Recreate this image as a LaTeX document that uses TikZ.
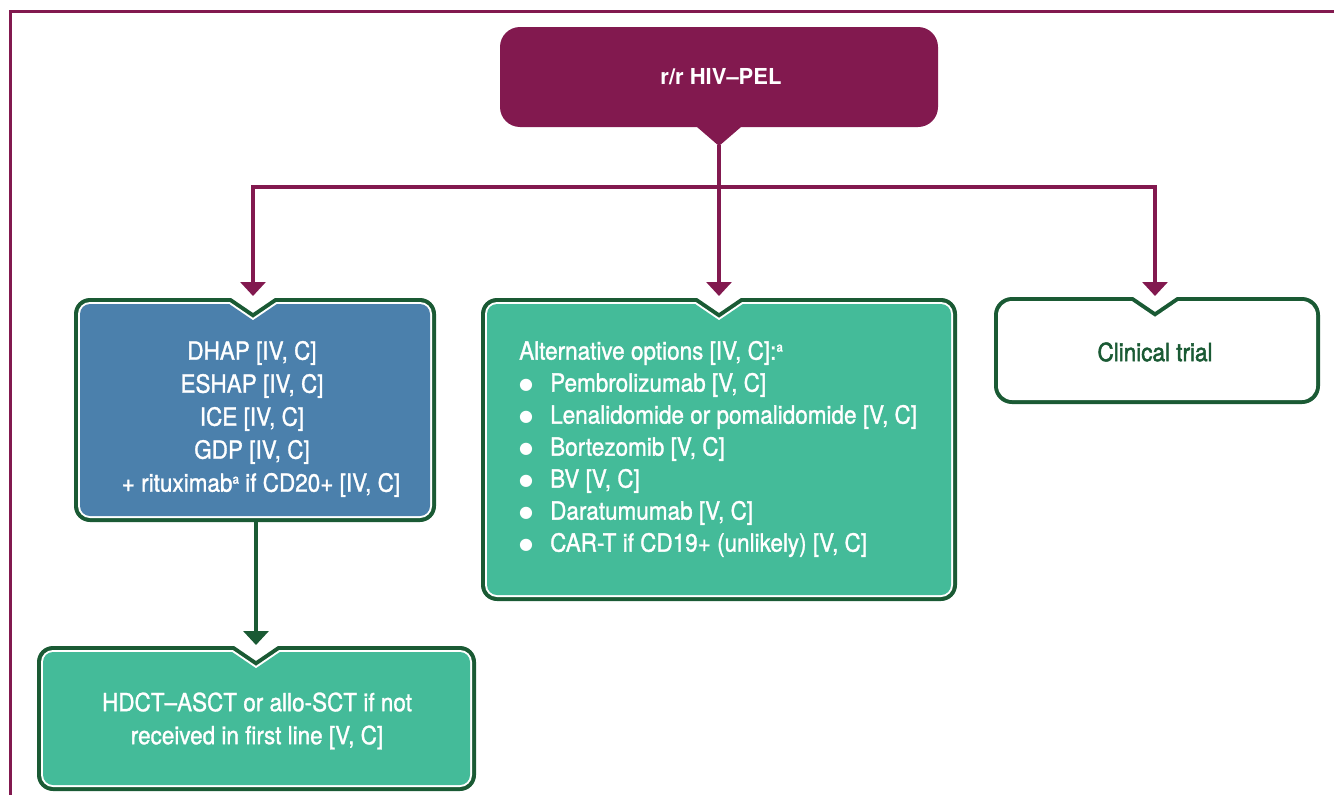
\documentclass[tikz,border=0pt]{standalone}
\usepackage{fontspec}
\setmainfont{TeX Gyre Heros}[FakeStretch=0.9, UprightFeatures={FakeBold=1.2}]
\newfontfamily\headfont{TeX Gyre Heros}
\newfontfamily\trialfont{TeX Gyre Heros}[FakeStretch=0.9, UprightFeatures={FakeBold=2}]
\newfontfamily\symfont{DejaVu Sans}
\usetikzlibrary{arrows.meta}

\definecolor{plum}{HTML}{82194F}
\definecolor{darkgreen}{HTML}{1A5A34}
\definecolor{mint}{HTML}{44BB99}
\definecolor{steel}{HTML}{4B80AC}

% one filled layer of a rounded box with a V notch in its top edge
% #1 left, #2 top, #3 right, #4 bottom (y measured downwards), #5 notch x,
% #6 corner radius, #7 inset, #8 fill colour
\newcommand\notchlayer[8]{%
  \pgfmathsetmacro\nbL{#1+#7}%
  \pgfmathsetmacro\nbT{-(#2+#7)}%
  \pgfmathsetmacro\nbR{#3-#7}%
  \pgfmathsetmacro\nbB{-(#4-#7)}%
  \pgfmathsetmacro\nbr{#6-#7}%
  \pgfmathsetmacro\nbW{22+0.31*#7}%
  \pgfmathsetmacro\nbD{-(#2+15+1.21*#7)}%
  \fill[#8] (\nbL,\nbB+\nbr) -- (\nbL,\nbT-\nbr)
    arc[start angle=180,end angle=90,radius=\nbr pt]
    -- (#5-\nbW,\nbT) -- (#5,\nbD) -- (#5+\nbW,\nbT)
    -- (\nbR-\nbr,\nbT) arc[start angle=90,end angle=0,radius=\nbr pt]
    -- (\nbR,\nbB+\nbr) arc[start angle=0,end angle=-90,radius=\nbr pt]
    -- (\nbL+\nbr,\nbB) arc[start angle=270,end angle=180,radius=\nbr pt]
    -- cycle;}
% green outline, thin white line, coloured body
\newcommand\notchbox[7]{%
  \notchlayer{#1}{#2}{#3}{#4}{#5}{#6}{0}{darkgreen}%
  \notchlayer{#1}{#2}{#3}{#4}{#5}{#6}{4}{white}%
  \notchlayer{#1}{#2}{#3}{#4}{#5}{#6}{6}{#7}}

\newcommand\supa{\raisebox{8pt}{\fontsize{13pt}{13pt}\selectfont a}}
\newcommand\bul{\makebox[31pt][l]{\hspace{0pt}\raisebox{2.5pt}{\symfont\fontsize{16pt}{16pt}\selectfont ●}}}

\tikzset{
  conn/.style={line width=3.2pt, draw=plum},
  gconn/.style={line width=3.5pt, draw=darkgreen},
  tipP/.style={-{Triangle[width=25pt,length=14pt]}},
  body/.style={font=\fontsize{25pt}{33pt}\selectfont, text=white, inner sep=0pt},
  listtext/.style={font=\fontsize{25pt}{32pt}\selectfont, text=white, inner sep=0pt},
}

\begin{document}
\begin{tikzpicture}[x=1pt,y=1pt]
\useasboundingbox (0,0) rectangle (1334,-795);

% page frame (top and left rules)
\draw[plum, line width=3pt] (10.5,-795) -- (10.5,-11.5) -- (1334,-11.5);

% heading box with its pointer
\fill[plum, rounded corners=20pt] (500,-27) rectangle (938,-127);
\fill[plum] (697,-120) -- (741,-120) -- (741,-127) -- (719,-146) -- (697,-127) -- cycle;
\node[font=\headfont\bfseries\fontsize{22pt}{26pt}\selectfont, text=white] (top) at (721,-77) {r/r HIV–PEL};
\coordinate (toptip) at (719,-145);

% option boxes
\notchbox{74}{298}{436}{522}{253}{16}{steel}
\notchbox{481}{298}{957}{601}{719}{16}{mint}
\notchlayer{994}{297}{1320}{404}{1155}{18}{0}{darkgreen}
\notchlayer{994}{297}{1320}{404}{1155}{18}{4}{white}
\notchbox{37}{646}{476}{791}{256}{16}{mint}

% box texts
\node[body, align=center] (salvage) at (252,-419)
  {DHAP [IV, C]\\ESHAP [IV, C]\\ICE [IV, C]\\GDP [IV, C]\\\hspace*{18pt}+ rituximab\supa{} if CD20+ [IV, C]};
\node[listtext, align=left, anchor=west] (alt) at (519,-449)
  {Alternative options [IV, C]:\supa\\
   \bul Pembrolizumab [V, C]\\
   \bul Lenalidomide or pomalidomide [V, C]\\
   \bul Bortezomib [V, C]\\
   \bul BV [V, C]\\
   \bul Daratumumab [V, C]\\
   \bul CAR-T if CD19+ (unlikely) [V, C]};
\node[body, font=\trialfont\fontsize{25pt}{33pt}\selectfont, text=darkgreen] (trial) at (1155,-352) {Clinical trial};
\node[body, align=center] (transplant) at (257,-721)
  {HDCT–ASCT or allo-SCT if not\\received in first line [V, C]};

% connectors
\coordinate (fork) at (719,-187);
\coordinate (salvin) at (253,-296);
\coordinate (altin) at (719,-296);
\coordinate (trialin) at (1155,-296);
\coordinate (salvout) at (256,-522);
\coordinate (transin) at (256,-645);
\draw[conn, tipP, plum] (toptip) -- (altin);
\draw[conn, tipP, plum] (fork) -| (salvin);
\draw[conn, tipP, plum] (fork) -| (trialin);
\draw[gconn, tipP, darkgreen] (salvout) -- (transin);
\end{tikzpicture}
\end{document}
